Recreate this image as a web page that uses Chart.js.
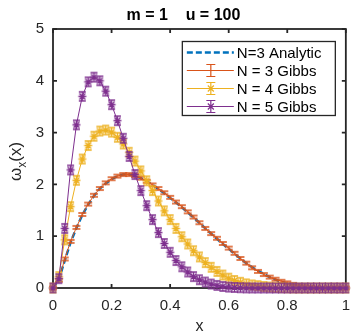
<!DOCTYPE html>
<html>
<head>
<meta charset="utf-8">
<script src="https://cdn.jsdelivr.net/npm/chart.js@4/dist/chart.umd.min.js"></script>
<style>
  html, body { margin: 0; padding: 0; background: #fff; overflow: hidden; }
  canvas { display: block; }
</style>
</head>
<body>
<canvas id="chart" width="359" height="333"></canvas>
<script>
// Data
const xs = [0, 0.02, 0.04, 0.06, 0.08, 0.1, 0.12, 0.14, 0.16, 0.18,
  0.2, 0.22, 0.24, 0.26, 0.28, 0.3, 0.32, 0.34, 0.36, 0.38,
  0.4, 0.42, 0.44, 0.46, 0.48, 0.5, 0.52, 0.54, 0.56, 0.58,
  0.6, 0.62, 0.64, 0.66, 0.68, 0.7, 0.72, 0.74, 0.76, 0.78,
  0.8, 0.82, 0.84, 0.86, 0.88, 0.9, 0.92, 0.94, 0.96, 0.98, 1];

const analyticN3 = [0, 0.16, 0.53, 0.88, 1.16, 1.41, 1.61, 1.78, 1.92, 2.02,
  2.10, 2.16, 2.19, 2.19, 2.17, 2.12, 2.06, 1.99, 1.91, 1.83,
  1.74, 1.65, 1.56, 1.46, 1.36, 1.26, 1.15, 1.05, 0.95, 0.85,
  0.76, 0.66, 0.57, 0.48, 0.40, 0.33, 0.27, 0.21, 0.16, 0.12,
  0.09, 0.06, 0.04, 0.02, 0.01, 0.004, 0, 0, 0, 0, 0];

const gibbsN3 = [0, 0.15, 0.56, 0.90, 1.17, 1.42, 1.62, 1.79, 1.92, 2.03,
  2.11, 2.16, 2.19, 2.19, 2.17, 2.12, 2.06, 1.99, 1.92, 1.84,
  1.75, 1.66, 1.57, 1.47, 1.37, 1.26, 1.15, 1.05, 0.96, 0.86,
  0.77, 0.67, 0.57, 0.48, 0.39, 0.32, 0.26, 0.21, 0.17, 0.13,
  0.10, 0.07, 0.045, 0.025, 0.01, 0.003, 0, 0, 0, 0, 0];

const gibbsN4 = [0, 0.22, 0.93, 1.57, 2.08, 2.49, 2.75, 2.93, 3.03, 3.05,
  3.01, 2.91, 2.78, 2.62, 2.45, 2.26, 2.07, 1.88, 1.68, 1.49,
  1.32, 1.15, 0.99, 0.85, 0.72, 0.60, 0.49, 0.40, 0.32, 0.25,
  0.19, 0.145, 0.11, 0.08, 0.06, 0.045, 0.03, 0.02, 0.012, 0.007,
  0.004, 0.002, 0, 0, 0, 0, 0, 0, 0, 0, 0];

const gibbsN5 = [0, 0.18, 1.15, 2.28, 3.15, 3.70, 3.98, 4.07, 4.00, 3.80,
  3.54, 3.23, 2.89, 2.54, 2.19, 1.88, 1.59, 1.32, 1.07, 0.86,
  0.69, 0.53, 0.41, 0.31, 0.22, 0.16, 0.115, 0.077, 0.05, 0.03,
  0.018, 0.01, 0.005, 0.002, 0, 0, 0, 0, 0, 0,
  0, 0, 0, 0, 0, 0, 0, 0, 0, 0, 0];

const seriesLabels = ["N=3 Analytic", "N = 3 Gibbs", "N = 4 Gibbs", "N = 5 Gibbs"];
const xTicks = [0, 0.2, 0.4, 0.6, 0.8, 1];
const xTickLabels = ["0", "0.2", "0.4", "0.6", "0.8", "1"];
const yTicks = [0, 1, 2, 3, 4, 5];
const yTickLabels = ["0", "1", "2", "3", "4", "5"];
const titleText = "m = 1    u = 100";

(() => {
  "use strict";

  const FONT = "'Liberation Sans', Arial, Helvetica, sans-serif";
  const AX = "#262626";
  const C = { blue: "#0072BD", orange: "#D95319", yellow: "#EDB120", purple: "#7E2F8E" };

  // error bar glyph, optionally with an asterisk on top
  function drawMark(g, cx, cy, color, star, barHalf, capHalf, lw) {
    g.save();
    g.strokeStyle = color;
    g.lineWidth = lw;
    g.beginPath();
    g.moveTo(cx, cy - barHalf); g.lineTo(cx, cy + barHalf);
    g.moveTo(cx - capHalf, cy - barHalf); g.lineTo(cx + capHalf, cy - barHalf);
    g.moveTo(cx - capHalf, cy + barHalf); g.lineTo(cx + capHalf, cy + barHalf);
    if (star) {
      const r = 4, d = 3;
      g.moveTo(cx - r, cy); g.lineTo(cx + r, cy);
      g.moveTo(cx - d, cy - d); g.lineTo(cx + d, cy + d);
      g.moveTo(cx - d, cy + d); g.lineTo(cx + d, cy - d);
    }
    g.stroke();
    g.restore();
  }

  function markCanvas(color, star) {
    const c = document.createElement("canvas");
    c.width = star ? 13 : 10;
    c.height = star ? 13 : 7;
    const g = c.getContext("2d");
    if (star) drawMark(g, 6.5, 6.5, color, true, 4.5, 3.5, 1.3);
    else drawMark(g, 5, 3.5, color, false, 1.5, 4, 1.4);
    return c;
  }

  const pts = (ys) => xs.map((x, i) => ({ x, y: ys[i] }));

  const legendMarks = [null,
    { color: C.orange, star: false },
    { color: C.yellow, star: true },
    { color: C.purple, star: true }];

  const frame = {
    id: "frame",
    beforeDatasetsDraw(chart) {
      const { ctx, chartArea: a, scales: { x, y } } = chart;
      ctx.save();
      ctx.strokeStyle = AX;
      ctx.lineWidth = 1.8;
      ctx.strokeRect(a.left, a.top, a.right - a.left, a.bottom - a.top);
      ctx.beginPath();
      xTicks.forEach(v => {
        const p = x.getPixelForValue(v);
        ctx.moveTo(p, a.bottom); ctx.lineTo(p, a.bottom - 4);
        ctx.moveTo(p, a.top); ctx.lineTo(p, a.top + 4);
      });
      yTicks.forEach(v => {
        const p = y.getPixelForValue(v);
        ctx.moveTo(a.left, p); ctx.lineTo(a.left + 4, p);
        ctx.moveTo(a.right, p); ctx.lineTo(a.right - 4, p);
      });
      ctx.stroke();
      ctx.restore();
    },
    afterDatasetsDraw(chart) {
      const { ctx, chartArea: a } = chart;
      const w = 153, rowH = 18.2;
      const h = 74;
      const left = a.right - 11 - w, top = a.top + 12;
      ctx.save();
      ctx.fillStyle = "#fff";
      ctx.fillRect(left, top, w, h);
      ctx.strokeStyle = AX;
      ctx.lineWidth = 1.3;
      ctx.strokeRect(left + 0.5, top + 0.5, w, h);
      ctx.font = "15px " + FONT;
      ctx.textBaseline = "middle";
      chart.data.datasets.forEach((ds, i) => {
        const cy = Math.round(top + 10.5 + i * rowH) + 0.5;
        ctx.beginPath();
        ctx.strokeStyle = ds.borderColor;
        ctx.lineWidth = ds.borderWidth;
        ctx.setLineDash(ds.borderDash || []);
        ctx.moveTo(left + 5, cy); ctx.lineTo(left + 52, cy);
        ctx.stroke();
        ctx.setLineDash([]);
        const m = legendMarks[i];
        if (m) drawMark(ctx, left + 29, cy, m.color, m.star, 6, 4.5, 1.2);
        ctx.fillStyle = "#000";
        ctx.fillText(ds.label, left + 55, cy + 1);
      });
      ctx.restore();
    },
    afterDraw(chart) {
      const { ctx, chartArea: a } = chart;
      ctx.save();
      ctx.fillStyle = "#000";
      // title
      ctx.font = "bold 16px " + FONT;
      ctx.textAlign = "center";
      ctx.textBaseline = "alphabetic";
      ctx.fillText(titleText, (a.left + a.right) / 2 - 16, 20);
      // x label
      ctx.font = "16px " + FONT;
      ctx.fillStyle = AX;
      ctx.fillText("x", (a.left + a.right) / 2, 331);
      // y label: omega with subscript x
      const mid = (a.top + a.bottom) / 2 + 3;
      ctx.translate(20.5, mid);
      ctx.rotate(-Math.PI / 2);
      ctx.textAlign = "left";
      ctx.font = "17px " + FONT;
      const wO = ctx.measureText("\u03c9").width;
      const wP = ctx.measureText("(x)").width;
      ctx.font = "12px " + FONT;
      const wS = ctx.measureText("x").width;
      let px = -(wO + wS + wP) / 2;
      ctx.font = "17px " + FONT;
      ctx.fillText("\u03c9", px, 0);
      px += wO;
      ctx.font = "12px " + FONT;
      ctx.fillText("x", px, 5.5);
      px += wS;
      ctx.font = "17px " + FONT;
      ctx.fillText("(x)", px, 0);
      ctx.restore();
    }
  };

  const tickFont = { family: FONT, size: 15 };

  new Chart(document.getElementById("chart"), {
    type: "line",
    data: {
      datasets: [
        { label: seriesLabels[0], data: pts(analyticN3), borderColor: C.blue, borderWidth: 2.5,
          borderDash: [6, 3], pointRadius: 0, order: 4, clip: false },
        { label: seriesLabels[1], data: pts(gibbsN3), borderColor: C.orange, borderWidth: 1,
          pointStyle: markCanvas(C.orange, false), pointRadius: 5, order: 3, clip: false },
        { label: seriesLabels[2], data: pts(gibbsN4), borderColor: C.yellow, borderWidth: 1,
          pointStyle: markCanvas(C.yellow, true), pointRadius: 5, order: 2, clip: false },
        { label: seriesLabels[3], data: pts(gibbsN5), borderColor: C.purple, borderWidth: 1,
          pointStyle: markCanvas(C.purple, true), pointRadius: 5, order: 1, clip: false }
      ]
    },
    options: {
      responsive: false,
      animation: false,
      devicePixelRatio: 1,
      layout: { autoPadding: false, padding: { top: 29, right: 2, left: 0, bottom: 0 } },
      plugins: { legend: { display: false }, tooltip: { enabled: false }, title: { display: false } },
      elements: { line: { tension: 0 } },
      scales: {
        x: {
          type: "linear", min: 0, max: 1,
          grid: { display: false, drawTicks: false }, border: { display: false },
          afterBuildTicks: s => { s.ticks = xTicks.map(v => ({ value: v })); },
          afterFit: s => { s.height = 45; },
          ticks: { font: tickFont, color: AX, padding: 9, maxRotation: 0,
            callback: (v) => xTickLabels[xTicks.indexOf(v)] }
        },
        y: {
          min: 0, max: 5,
          grid: { display: false, drawTicks: false }, border: { display: false },
          afterBuildTicks: s => { s.ticks = yTicks.map(v => ({ value: v })); },
          afterFit: s => { s.width = 53; },
          ticks: { font: tickFont, color: AX, padding: 9,
            callback: (v) => yTickLabels[yTicks.indexOf(v)] }
        }
      }
    },
    plugins: [frame]
  });
})();
</script>
</body>
</html>
